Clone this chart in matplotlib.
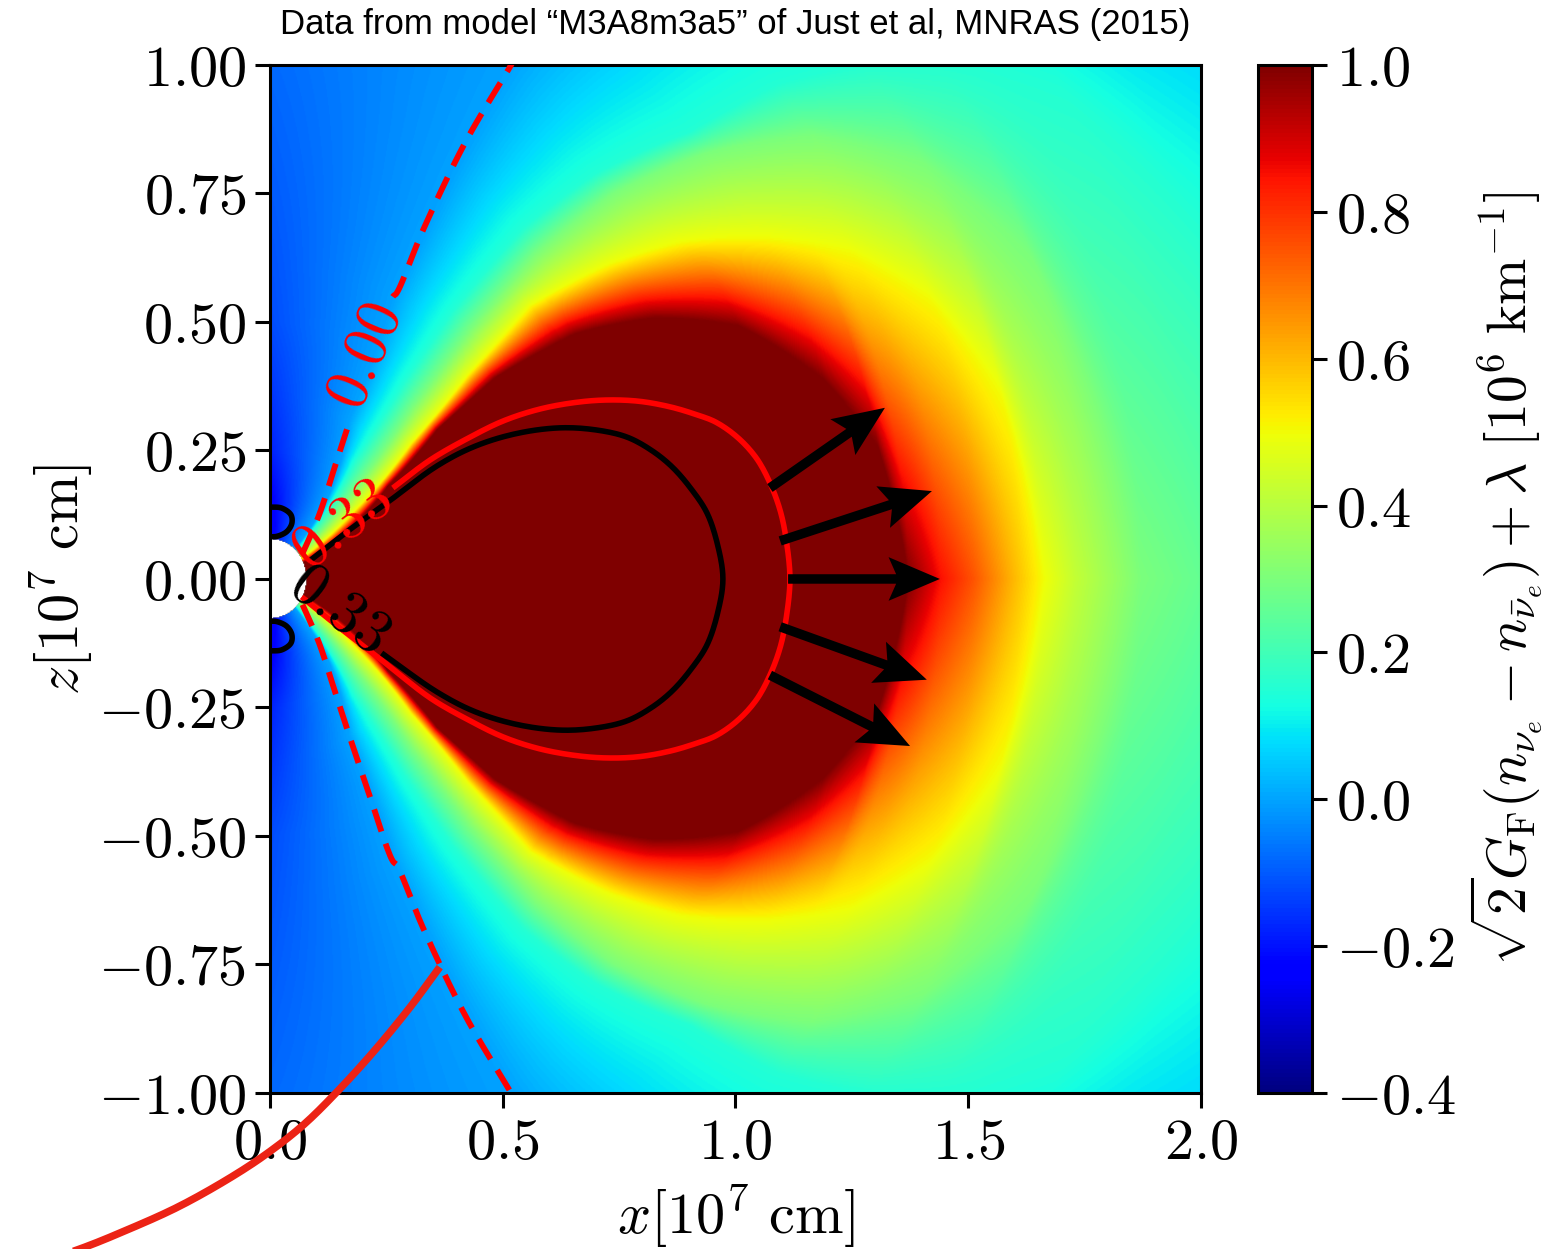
import numpy as np
import matplotlib
matplotlib.use('Agg')
import matplotlib.pyplot as plt
from matplotlib.ticker import FuncFormatter

plt.rcParams['mathtext.fontset'] = 'cm'
plt.rcParams['font.family'] = ['Liberation Sans', 'DejaVu Sans']

# ---- field: angle (deg from equator) of each colour level vs radius ----
LEVELS = [1.0, 0.5, 0.3, 0.15, 0.0]
LVL_R = [
    [0.07, 0.16, 0.31, 0.46, 0.62, 0.81, 0.97, 1.12, 1.25, 1.33, 1.37],
    [0.07, 0.22, 0.40, 0.58, 0.77, 0.95, 1.10, 1.25, 1.40, 1.52, 1.61, 1.66],
    [0.07, 0.25, 0.45, 0.65, 0.85, 1.05, 1.25, 1.45, 1.62, 1.75, 1.87],
    [0.07, 0.29, 0.48, 0.65, 0.87, 1.05, 1.25, 1.45, 1.63, 1.80, 1.95, 2.10, 2.30],
    [0.07, 0.17, 0.35, 0.61, 0.87, 1.12, 1.40, 1.70, 2.00, 2.30],
]
LVL_A = [
    [24, 28, 35.5, 39, 39, 36, 31.5, 26, 18, 11, 0],
    [30, 36, 41, 43, 43.5, 40, 36.5, 32, 27, 21, 13, 0],
    [38, 44, 47.5, 48.5, 48, 45.5, 41.5, 36.5, 30, 21, 0],
    [44, 51.5, 53, 53, 51.5, 48.5, 44, 41.5, 38, 34, 29, 20, 10],
    [47, 50, 61, 64, 63.5, 62.6, 60, 55, 47, 40],
]
# value on the equator (z=0) and on the pole (x=0)
EQ_R = [0.0, 1.37, 1.44, 1.51, 1.585, 1.66, 1.73, 1.87, 2.0, 2.3]
EQ_V = [1.3, 1.0, 0.85, 0.75, 0.62, 0.5, 0.42, 0.3, 0.26, 0.21]
POLE_R = [0.07, 0.15, 0.25, 0.5, 0.75, 1.0, 1.2, 2.3]
POLE_V = [-0.27, -0.24, -0.18, -0.12, -0.1, -0.08, -0.07, -0.05]
R_CORE = 0.077

# ---- contour lines ----
red_x = [0.264, 0.345, 0.43, 0.50, 0.573, 0.645, 0.716, 0.79, 0.859, 0.915, 0.958, 1.005, 1.045, 1.075,
         1.097, 1.11, 1.117,
         1.11, 1.097, 1.075, 1.045, 1.005, 0.958, 0.915, 0.859, 0.79, 0.716, 0.645, 0.573, 0.50, 0.43,
         0.345, 0.243, 0.15, 0.068]
red_z = [0.177, 0.232, 0.276, 0.307, 0.329, 0.342, 0.348, 0.346, 0.335, 0.32, 0.305, 0.275, 0.235, 0.185,
         0.13, 0.07, 0.0,
         -0.07, -0.13, -0.185, -0.235, -0.275, -0.305, -0.32, -0.335, -0.346, -0.348, -0.342, -0.329,
         -0.307, -0.276, -0.232, -0.16, -0.095, -0.035]
black_x = [0.085, 0.17, 0.251, 0.359, 0.44, 0.53, 0.623, 0.70, 0.767, 0.82, 0.864, 0.905, 0.939, 0.962, 0.973,
           0.962, 0.939, 0.905, 0.864, 0.82, 0.767, 0.70, 0.623, 0.53, 0.44, 0.359, 0.24]
black_z = [0.035, 0.095, 0.148, 0.22, 0.258, 0.283, 0.294, 0.29, 0.276, 0.25, 0.218, 0.175, 0.128, 0.065, 0.0,
           -0.065, -0.128, -0.175, -0.218, -0.25, -0.276, -0.29, -0.294, -0.283, -0.258, -0.22, -0.144]
hook_x = [0.0, 0.025, 0.045, 0.047, 0.036, 0.015, 0.0]
hook_z = [0.14, 0.138, 0.125, 0.108, 0.092, 0.083, 0.082]
dash_x = [0.07, 0.085, 0.107, 0.14, 0.172, 0.21, 0.264, 0.272, 0.329, 0.42, 0.518, 0.53]
dash_z = [0.05, 0.08, 0.128, 0.22, 0.309, 0.41, 0.549, 0.556, 0.679, 0.85, 1.0, 1.02]
dash_gap = (0.309, 0.549)

arrow_x0 = [1.074, 1.096, 1.113, 1.096, 1.074]
arrow_z0 = [0.177, 0.074, 0.0, -0.093, -0.187]
arrow_x1 = [1.321, 1.422, 1.439, 1.411, 1.375]
arrow_z1 = [0.333, 0.171, 0.0, -0.196, -0.325]

pointer_x = [0.360, 0.302, 0.226, 0.148, 0.072, -0.005, -0.082, -0.196, -0.311, -0.404, -0.494]
pointer_z = [-0.761, -0.832, -0.916, -0.994, -1.062, -1.117, -1.163, -1.221, -1.268, -1.302, -1.329]

CBAR_TICKS = [-0.4, -0.2, 0.0, 0.2, 0.4, 0.6, 0.8, 1.0]
X_TICKS = [0.0, 0.5, 1.0, 1.5, 2.0]
Z_TICKS = [-1.0, -0.75, -0.5, -0.25, 0.0, 0.25, 0.5, 0.75, 1.0]

Z_ASPECT = 514 / 465.5  # screen scale of z relative to x


def build_field(n=900):
    xs = np.linspace(0, 2, n)
    zs = np.linspace(-1, 1, n)
    X, Z = np.meshgrid(xs, zs)
    R = np.hypot(X, Z)
    A = np.degrees(np.arctan2(np.abs(Z), X))
    F = np.zeros_like(R)
    done = np.zeros(R.shape, bool)
    prev_a = np.zeros_like(R)
    prev_v = np.interp(R, EQ_R, EQ_V)
    for v, lr, la in zip(LEVELS, LVL_R, LVL_A):
        a = np.interp(R, lr, la)
        active = a > 0
        seg = active & ~done & (A < a)
        span = np.where(a - prev_a > 1e-6, a - prev_a, 1.0)
        t = np.clip((A - prev_a) / span, 0, 1)
        F = np.where(seg, prev_v + (v - prev_v) * t, F)
        done |= seg
        prev_a = np.where(active, a, prev_a)
        prev_v = np.where(active, v, prev_v)
    pv = np.interp(R, POLE_R, POLE_V)
    t = np.clip((A - prev_a) / np.maximum(90 - prev_a, 1e-6), 0, 1)
    F = np.where(done, F, prev_v + (pv - prev_v) * t)
    F[R < R_CORE] = np.nan
    return F


def smooth(xs, zs, n=14):
    # centripetal catmull-rom through the traced points
    p = np.column_stack([xs, np.asarray(zs) * Z_ASPECT]).astype(float)
    p = np.vstack([2 * p[0] - p[1], p, 2 * p[-1] - p[-2]])
    pieces = []
    for i in range(len(p) - 3):
        p0, p1, p2, p3 = p[i:i + 4]
        t0 = 0.0
        t1 = t0 + np.linalg.norm(p1 - p0) ** 0.5
        t2 = t1 + np.linalg.norm(p2 - p1) ** 0.5
        t3 = t2 + np.linalg.norm(p3 - p2) ** 0.5
        t = np.linspace(t1, t2, n, endpoint=False)[:, None]
        a1 = (t1 - t) / (t1 - t0) * p0 + (t - t0) / (t1 - t0) * p1
        a2 = (t2 - t) / (t2 - t1) * p1 + (t - t1) / (t2 - t1) * p2
        a3 = (t3 - t) / (t3 - t2) * p2 + (t - t2) / (t3 - t2) * p3
        b1 = (t2 - t) / (t2 - t0) * a1 + (t - t0) / (t2 - t0) * a2
        b2 = (t3 - t) / (t3 - t1) * a2 + (t - t1) / (t3 - t1) * a3
        pieces.append((t2 - t) / (t2 - t1) * b1 + (t - t1) / (t2 - t1) * b2)
    pieces.append(p[-2][None])
    c = np.vstack(pieces)
    return c[:, 0], c[:, 1] / Z_ASPECT


fig = plt.figure(figsize=(15.63, 12.49), dpi=100)
ax = fig.add_axes([0.1727, 0.1249, 0.5957, 0.8231])
cax = fig.add_axes([0.8049, 0.1249, 0.0345, 0.8231])

field = build_field()
im = ax.imshow(field, extent=[0, 2, -1, 1], origin='lower', aspect='auto',
               cmap='jet', vmin=-0.4, vmax=1.0, interpolation='bilinear')

lw = 4.0
sx, sz = smooth(red_x, red_z)
ax.plot(sx, sz, color='red', lw=lw, solid_capstyle='butt', zorder=3)
sx, sz = smooth(black_x, black_z)
ax.plot(sx, sz, color='black', lw=lw, solid_capstyle='butt', zorder=3)
for sgn in (1, -1):
    hx, hz = smooth(hook_x, [sgn * v for v in hook_z], n=8)
    ax.plot(hx, hz, color='black', lw=lw, zorder=3)

# dashed zero contour, upper and lower branch, with a gap for the label on the upper one
dx, dz = smooth(dash_x, dash_z)
dash_style = dict(color='red', lw=4.2, ls=(0, (4.0, 2.2)), zorder=3)
for keep in (dz <= dash_gap[0], dz >= dash_gap[1]):
    ax.plot(dx[keep], dz[keep], **dash_style)
ax.plot(dx, -dz, **dash_style)

lab = dict(fontsize=44, ha='center', va='center', rotation_mode='anchor', zorder=4)
ax.text(0.208, 0.432, r'$0.00$', color='red', rotation=67, **lab)
ax.text(0.157, 0.101, r'$0.33$', color='red', rotation=37, **lab)
ax.text(0.146, -0.062, r'$0.33$', color='black', rotation=-37, **lab)

u = np.subtract(arrow_x1, arrow_x0)
v = np.subtract(arrow_z1, arrow_z0)
ax.quiver(arrow_x0, arrow_z0, u, v, angles='xy', scale_units='xy', scale=1,
          width=0.0102, headwidth=4.6, headlength=5.4, headaxislength=4.6,
          color='black', zorder=5)

px, pz = smooth(pointer_x, pointer_z)
ax.plot(px, pz, color='#ec2315', lw=5.4, clip_on=False, zorder=6)

ax.set_xlim(0, 2)
ax.set_ylim(-1, 1)
ax.set_xticks(X_TICKS)
ax.set_yticks(Z_TICKS)
ax.xaxis.set_major_formatter(FuncFormatter(lambda val, pos: f'${val:.1f}$'))
ax.yaxis.set_major_formatter(FuncFormatter(lambda val, pos: f'${val:.2f}$'))
ax.tick_params(labelsize=42, length=11, width=2.2, pad=6)
for sp in ax.spines.values():
    sp.set_linewidth(2.2)
ax.set_xlabel(r'$x[10^7\ {\rm cm}]$', fontsize=42, labelpad=8)
ax.set_ylabel(r'$z[10^7\ {\rm cm}]$', fontsize=42, labelpad=2)
ax.set_title('Data from model \u201cM3A8m3a5\u201d of Just et al, MNRAS (2015)',
             fontsize=25, pad=22)

cb = fig.colorbar(im, cax=cax, ticks=CBAR_TICKS)
cb.ax.yaxis.set_major_formatter(FuncFormatter(lambda val, pos: f'${val:.1f}$'))
cb.ax.tick_params(labelsize=42, length=11, width=2.2, pad=6)
cb.outline.set_linewidth(2.2)
cb.set_label(r'$\sqrt{2}G_{\rm F}(n_{\nu_e}-n_{\bar{\nu}_e})+\lambda\ [10^6\ {\rm km}^{-1}]$',
             fontsize=40, labelpad=8)

fig.savefig('out.png', dpi=100)
